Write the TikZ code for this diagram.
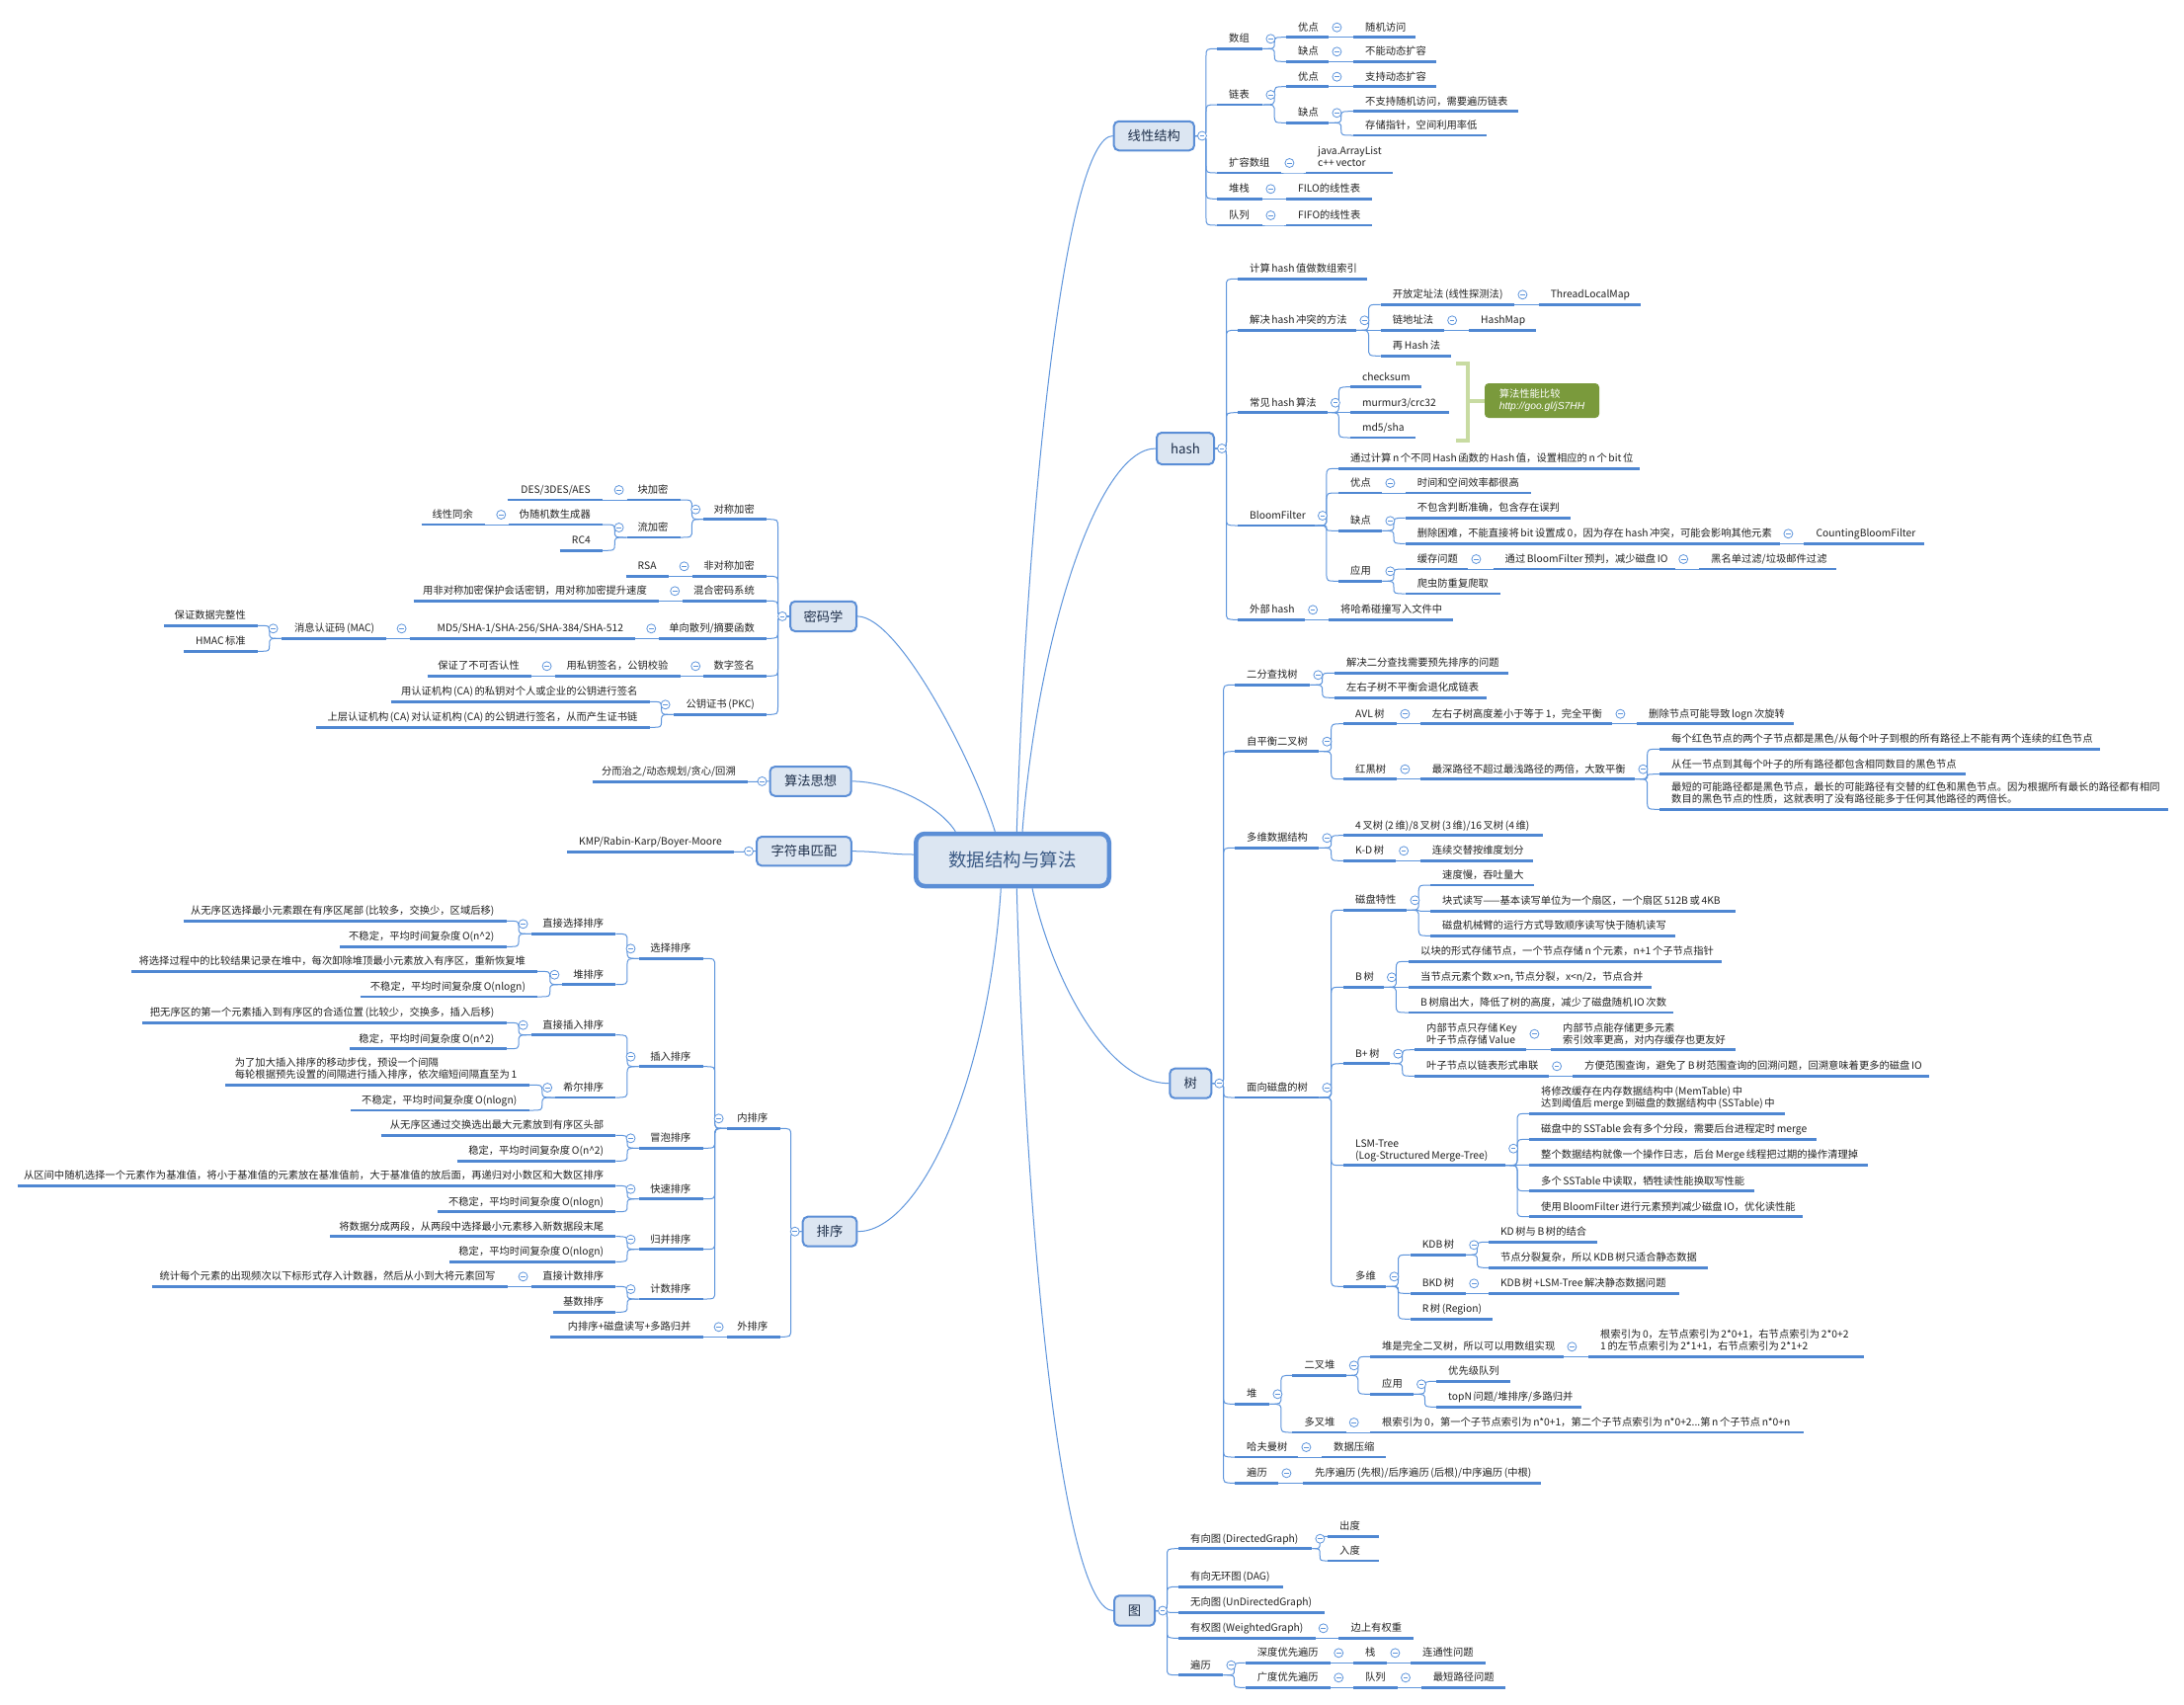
\documentclass[tikz,border=0pt]{standalone}
\usepackage{fontspec}
\setmainfont{Noto Sans CJK SC}[WordSpace=0.7]
\newfontfamily\itfont{Liberation Sans}
\usetikzlibrary{calc}
\pgfdeclarelayer{back}
\pgfdeclarelayer{bg}
\pgfsetlayers{back,bg,main}
\definecolor{ulc}{HTML}{4F87D2}
\definecolor{cnc}{HTML}{5E95DC}
\definecolor{bfill}{HTML}{DCE6F2}
\definecolor{bdraw}{HTML}{5B8ED6}
\definecolor{btext}{HTML}{1E2F4A}
\definecolor{mtext}{HTML}{3B5A85}
\definecolor{lbltext}{HTML}{222222}
\definecolor{brkc}{HTML}{C8DBA2}
\definecolor{gfill}{HTML}{7A9A3C}
\tikzset{
 lbl/.style={inner xsep=12pt, inner ysep=4.85pt, text height=9pt, text depth=1.3pt, font=\fontsize{10.3}{12}\selectfont, text=lbltext},
 ul/.style={draw=ulc, line width=2.8pt},
 conn/.style={draw=cnc, line width=1pt},
 cir/.style={circle, draw=cnc, fill=white, line width=0.8pt, minimum size=9pt, inner sep=0pt,
   path picture={\draw[cnc,line width=0.7pt] ([xshift=-2.3pt]path picture bounding box.center) -- ([xshift=2.3pt]path picture bounding box.center);}},
 tbox/.style={draw=bdraw, line width=2pt, fill=bfill, rounded corners=5pt, inner sep=0pt, font=\fontsize{13.3}{15}\selectfont, text=btext},
 mbox/.style={draw=bdraw, line width=4.5pt, fill=bfill, rounded corners=9pt, inner sep=0pt, font=\fontsize{18.5}{21}\selectfont, text=mtext},
 brk/.style={draw=brkc, line width=4pt},
 gbox/.style={fill=gfill, rounded corners=4pt, inner sep=0pt, text=white, font=\fontsize{10.3}{12}\selectfont},
}
\newcommand\ml[1]{\begin{tabular}[b]{@{}l@{}}#1\end{tabular}}
\newcommand\RN[5]{\node[lbl,anchor=south west] (#1) at (#2,#4) {\makebox[\dimexpr #3pt-#2pt-24pt\relax][l]{#5}};\draw[ul] (#1.south west) -- (#1.south east);}
\newcommand\LN[5]{\node[lbl,anchor=south east] (#1) at (#3,#4) {\makebox[\dimexpr #3pt-#2pt-24pt\relax][r]{#5}};\draw[ul] (#1.south west) -- (#1.south east);}
\newcommand\rc[2]{\begin{pgfonlayer}{bg}\draw[conn] let \p1=(#1), \p2=(#2),
  \n1={(\x1+\x2)/2}, \n2={min(8pt,abs(\y2-(\y1))/2)},
  \n3={(\y2)>(\y1) ? (\y1+\n2) : (\y1-\n2)}, \n4={(\y2)>(\y1) ? (\y2-\n2) : (\y2+\n2)} in
  (\p1) .. controls (\n1,\y1) .. (\n1,\n3) -- (\n1,\n4) .. controls (\n1,\y2) .. (\p2);\end{pgfonlayer}}
\newcommand\RK[3][10pt]{\foreach \kid in {#3}{\rc{#2.south east}{\kid.south west}}\node[cir] at ([xshift=8pt,yshift=#1]#2.south east) {};}
\newcommand\LK[3][10pt]{\foreach \kid in {#3}{\rc{#2.south west}{\kid.south east}}\node[cir] at ([xshift=-8pt,yshift=#1]#2.south west) {};}
\newcommand\BR[2]{\foreach \kid in {#2}{\rc{#1.east}{\kid.south west}}\node[cir] at ([xshift=7pt]#1.east) {};}
\newcommand\BL[2]{\foreach \kid in {#2}{\rc{#1.west}{\kid.south east}}\node[cir] at ([xshift=-7pt]#1.west) {};}
\begin{document}
\begin{tikzpicture}[x=1pt,y=-1pt]
\begin{pgfonlayer}{back}
\fill[white] (0,0) rectangle (2211,1725);
\end{pgfonlayer}
\useasboundingbox (0,0) rectangle (2211,1725);

% ---------- main topics ----------
\node[mbox, minimum width=195.5pt, minimum height=53pt] (M) at (1025,870.5) {数据结构与算法};
\node[tbox, minimum width=81.3pt, minimum height=29.5pt] (L0) at (1168.3,137.5) {线性结构};
\node[tbox, minimum width=58pt, minimum height=32pt] (H0) at (1200,454) {hash};
\node[tbox, minimum width=42pt, minimum height=30pt] (T0) at (1205.3,1096.7) {树};
\node[tbox, minimum width=41pt, minimum height=30.4pt] (G0) at (1148.5,1630.5) {图};
\node[tbox, minimum width=67pt, minimum height=30.3pt] (C0) at (833.5,623.9) {密码学};
\node[tbox, minimum width=82.2pt, minimum height=29.7pt] (A0) at (820.6,790.9) {算法思想};
\node[tbox, minimum width=95.7pt, minimum height=29.3pt] (S0) at (813.9,861.7) {字符串匹配};
\node[tbox, minimum width=54.6pt, minimum height=30pt] (P0) at (840,1246.7) {排序};

\begin{pgfonlayer}{bg}
\draw[conn] ([xshift=4.3pt]M.north) .. controls +(10.7,-342) and +(-46.7,0) .. (L0.west);
\draw[conn] ([xshift=10pt]M.north) .. controls +(15,-192) and +(-60,0) .. (H0.west);
\draw[conn] ([xshift=-17.7pt]M.north) .. controls +(-22.3,-72) and +(41.7,0) .. (C0.east);
\draw[conn] ([xshift=-57.7pt]M.north) .. controls +(-17,-27) and +(38,0) .. (A0.east);
\draw[conn] ([yshift=5.5pt]M.west) .. controls +(-25,0) and +(25,0) .. (S0.east);
\draw[conn] ([xshift=20pt]M.south) .. controls +(20,91) and +(-63.3,0) .. (T0.west);
\draw[conn] ([xshift=4.3pt]M.south) .. controls +(10.7,401) and +(-47,0) .. (G0.west);
\draw[conn] ([xshift=-11.7pt]M.south) .. controls +(-13.3,201) and +(61.7,0) .. (P0.east);
\end{pgfonlayer}

% ---------- linear structures ----------
\RN{a1}{1232}{1278}{49.3}{数组}
\RN{a11}{1302}{1345}{37.7}{优点}
\RN{a111}{1370}{1433}{37.7}{随机访问}
\RN{a12}{1302}{1345}{62.3}{缺点}
\RN{a121}{1370}{1454}{62.3}{不能动态扩容}
\RN{a2}{1232}{1278}{106}{链表}
\RN{a21}{1302}{1345}{87.7}{优点}
\RN{a211}{1370}{1454}{87.7}{支持动态扩容}
\RN{a22}{1302}{1345}{124.3}{缺点}
\RN{a221}{1370}{1537}{112.7}{不支持随机访问，需要遍历链表}
\RN{a222}{1370}{1505}{137}{存储指针，空间利用率低}
\RN{a3}{1232}{1297}{175}{扩容数组}
\RN{a31}{1322}{1410}{175}{\ml{java.ArrayList\\c++ vector}}
\RN{a4}{1232}{1278}{201.3}{堆栈}
\RN{a41}{1302}{1389}{201.3}{FILO的线性表}
\RN{a5}{1232}{1278}{228}{队列}
\RN{a51}{1302}{1389}{228}{FIFO的线性表}
\BR{L0}{a1,a2,a3,a4,a5}
\RK{a1}{a11,a12}\RK{a11}{a111}\RK{a12}{a121}
\RK{a2}{a21,a22}\RK{a21}{a211}\RK{a22}{a221,a222}
\RK{a3}{a31}\RK{a4}{a41}\RK{a5}{a51}

% ---------- hash ----------
\RN{b1}{1253}{1384}{282.3}{计算 hash 值做数组索引}
\RN{b2}{1253}{1373}{334.3}{解决 hash 冲突的方法}
\RN{b21}{1397.7}{1533}{308.3}{开放定址法 (线性探测法)}
\RN{b211}{1557.6}{1660.6}{308.3}{ThreadLocalMap}
\RN{b22}{1397.7}{1461.7}{334.3}{链地址法}
\RN{b221}{1487}{1555}{334.3}{HashMap}
\RN{b23}{1397.7}{1468.7}{360.3}{再 Hash 法}
\RN{b3}{1253}{1343.5}{417.7}{常见 hash 算法}
\RN{b31}{1366.8}{1439}{391.7}{checksum}
\RN{b32}{1366.8}{1466.5}{417.7}{murmur3/crc32}
\RN{b33}{1366.8}{1433}{443}{md5/sha}
\RN{b4}{1253}{1330.5}{532}{BloomFilter}
\RN{b41}{1355}{1659.5}{474.3}{通过计算 n 个不同 Hash 函数的 Hash 值，设置相应的 n 个 bit 位}
\RN{b42}{1355}{1399}{499}{优点}
\RN{b421}{1422.6}{1549.5}{499}{时间和空间效率都很高}
\RN{b43}{1355}{1399}{537.3}{缺点}
\RN{b431}{1422.6}{1590}{524.3}{不包含判断准确，包含存在误判}
\RN{b432}{1422.6}{1802}{550.3}{删除困难，不能直接将 bit 设置成 0，因为存在 hash 冲突，可能会影响其他元素}
\RN{b4321}{1826.4}{1947.8}{550.3}{CountingBloomFilter}
\RN{b44}{1355}{1399}{588.3}{应用}
\RN{b441}{1422.6}{1486}{576}{缓存问题}
\RN{b4411}{1511.5}{1695.8}{576}{通过 BloomFilter 预判，减少磁盘 IO}
\RN{b44111}{1720}{1859}{576}{黑名单过滤/垃圾邮件过滤}
\RN{b442}{1422.6}{1518.6}{601}{爬虫防重复爬取}
\RN{b5}{1253}{1320.7}{627.3}{外部 hash}
\RN{b51}{1345}{1471}{627.3}{将哈希碰撞写入文件中}
\BR{H0}{b1,b2,b3,b4,b5}
\RK{b2}{b21,b22,b23}\RK{b21}{b211}\RK{b22}{b221}
\RK{b3}{b31,b32,b33}
\RK{b4}{b41,b42,b43,b44}\RK{b42}{b421}\RK{b43}{b431,b432}\RK{b432}{b4321}
\RK{b44}{b441,b442}\RK{b441}{b4411}\RK{b4411}{b44111}
\RK{b5}{b51}
\node[gbox, minimum width=116pt, minimum height=35pt] (GB) at (1561,405.5) {\begin{tabular}{@{}l@{}}算法性能比较\\{\itfont\itshape http://goo.gl/jS7HH}\end{tabular}};
\draw[brk] (1474,368) -- (1486,368) -- (1486,446) -- (1474,446);
\draw[brk] (1486,405.5) -- (GB.west);

% ---------- tree ----------
\RN{c1}{1250}{1326}{693.3}{二分查找树}
\RN{c11}{1351}{1526.4}{681.3}{解决二分查找需要预先排序的问题}
\RN{c12}{1351}{1504.7}{706.3}{左右子树不平衡会退化成链表}
\RN{c2}{1250}{1335}{760.7}{自平衡二叉树}
\RN{c21}{1360}{1414}{732.7}{AVL 树}
\RN{c211}{1437.7}{1632}{732.7}{左右子树高度差小于等于 1，完全平衡}
\RN{c2111}{1657}{1815.5}{732.7}{删除节点可能导致 logn 次旋转}
\RN{c22}{1360}{1414}{788.7}{红黑树}
\RN{c221}{1437.7}{1655}{788.7}{最深路径不超过最浅路径的两倍，大致平衡}
\RN{c2211}{1680}{2126}{758.3}{每个红色节点的两个子节点都是黑色/从每个叶子到根的所有路径上不能有两个连续的红色节点}
\RN{c2212}{1680}{1989.5}{783.7}{从任一节点到其每个叶子的所有路径都包含相同数目的黑色节点}
\RN{c2213}{1680}{2194.6}{819.3}{\ml{最短的可能路径都是黑色节点，最长的可能路径有交替的红色和黑色节点。因为根据所有最长的路径都有相同\\数目的黑色节点的性质，这就表明了没有路径能多于任何其他路径的两倍长。}}
\RN{c3}{1250}{1335}{858.3}{多维数据结构}
\RN{c31}{1360}{1561.6}{845.7}{4 叉树 (2 维)/8 叉树 (3 维)/16 叉树 (4 维)}
\RN{c32}{1360}{1412.7}{871.3}{K-D 树}
\RN{c321}{1437.7}{1551.5}{871.3}{连续交替按维度划分}
\RN{c4}{1250}{1335}{1111}{面向磁盘的树}
\RN{c41}{1360}{1424}{921.3}{磁盘特性}
\RN{c411}{1448}{1553}{896}{速度慢，吞吐量大}
\RN{c412}{1448}{1756.6}{922.3}{块式读写——基本读写单位为一个扇区，一个扇区 512B 或 4KB}
\RN{c413}{1448}{1695.7}{947.3}{磁盘机械臂的运行方式导致顺序读写快于随机读写}
\RN{c42}{1360}{1400.5}{999.3}{B 树}
\RN{c421}{1426}{1743}{973.3}{以块的形式存储节点，一个节点存储 n 个元素，n+1 个子节点指针}
\RN{c422}{1426}{1672}{999.3}{当节点元素个数 x>n, 节点分裂，x<n/2，节点合并}
\RN{c423}{1426}{1694}{1025}{B 树扇出大，降低了树的高度，减少了磁盘随机 IO 次数}
\RN{c43}{1360}{1407}{1076.7}{B+ 树}
\RN{c431}{1432}{1545}{1062.7}{\ml{内部节点只存储 Key\\叶子节点存储 Value}}
\RN{c4311}{1570}{1756.6}{1062.7}{\ml{内部节点能存储更多元素\\索引效率更高，对内存缓存也更友好}}
\RN{c432}{1432}{1567.7}{1089.3}{叶子节点以链表形式串联}
\RN{c4321}{1592}{1953}{1089.3}{方便范围查询，避免了 B 树范围查询的回溯问题，回溯意味着更多的磁盘 IO}
\RN{c44}{1360}{1523.7}{1179.7}{\ml{LSM-Tree\\(Log-Structured Merge-Tree)}}
\RN{c441}{1548}{1806.7}{1127.3}{\ml{将修改缓存在内存数据结构中 (MemTable) 中\\达到阈值后 merge 到磁盘的数据结构中 (SSTable) 中}}
\RN{c442}{1548}{1838.5}{1153.3}{磁盘中的 SSTable 会有多个分段，需要后台进程定时 merge}
\RN{c443}{1548}{1890.6}{1179.3}{整个数据结构就像一个操作日志，后台 Merge 线程把过期的操作清理掉}
\RN{c444}{1548}{1775.5}{1205.7}{多个 SSTable 中读取，牺牲读性能换取写性能}
\RN{c445}{1548}{1825}{1231.7}{使用 BloomFilter 进行元素预判减少磁盘 IO，优化读性能}
\RN{c45}{1360}{1403}{1302.3}{多维}
\RN{c451}{1427.6}{1483.8}{1270.3}{KDB 树}
\RN{c4511}{1506.8}{1616.5}{1257.3}{KD 树与 B 树的结合}
\RN{c4512}{1506.8}{1728.8}{1283.3}{节点分裂复杂，所以 KDB 树只适合静态数据}
\RN{c452}{1427.6}{1483.8}{1309.3}{BKD 树}
\RN{c4521}{1506.8}{1700}{1309.3}{KDB 树 +LSM-Tree 解决静态数据问题}
\RN{c453}{1427.6}{1511}{1335.3}{R 树 (Region)}
\RN{c5}{1250}{1285}{1421.3}{堆}
\RN{c51}{1308.4}{1362.3}{1392.3}{二叉堆}
\RN{c511}{1387}{1583}{1373.3}{堆是完全二叉树，所以可以用数组实现}
\RN{c5111}{1608}{1887}{1373.3}{\ml{根索引为 0，左节点索引为 2*0+1，右节点索引为 2*0+2\\1 的左节点索引为 2*1+1，右节点索引为 2*1+2}}
\RN{c512}{1387}{1430.6}{1411.3}{应用}
\RN{c5121}{1454}{1529}{1398.3}{优先级队列}
\RN{c5122}{1454}{1601}{1424.3}{topN 问题/堆排序/多路归并}
\RN{c52}{1308.4}{1362.3}{1450}{多叉堆}
\RN{c521}{1387}{1826}{1450}{根索引为 0，第一个子节点索引为 n*0+1，第二个子节点索引为 n*0+2...第 n 个子节点 n*0+n}
\RN{c6}{1250}{1314}{1475}{哈夫曼树}
\RN{c61}{1338}{1402.5}{1475}{数据压缩}
\RN{c7}{1250}{1294}{1501.3}{遍历}
\RN{c71}{1319}{1560}{1501.3}{先序遍历 (先根)/后序遍历 (后根)/中序遍历 (中根)}
\BR{T0}{c1,c2,c3,c4,c5,c6,c7}
\RK{c1}{c11,c12}
\RK{c2}{c21,c22}\RK{c21}{c211}\RK{c211}{c2111}\RK{c22}{c221}\RK{c221}{c2211,c2212,c2213}
\RK{c3}{c31,c32}\RK{c32}{c321}
\RK{c4}{c41,c42,c43,c44,c45}\RK{c41}{c411,c412,c413}\RK{c42}{c421,c422,c423}
\RK{c43}{c431,c432}\RK[16pt]{c431}{c4311}\RK{c432}{c4321}
\RK[17pt]{c44}{c441,c442,c443,c444,c445}
\RK{c45}{c451,c452,c453}\RK{c451}{c4511,c4512}\RK{c452}{c4521}
\RK{c5}{c51,c52}\RK{c51}{c511,c512}\RK{c511}{c5111}\RK{c512}{c5121,c5122}\RK{c52}{c521}
\RK{c6}{c61}\RK{c7}{c71}

% ---------- graph ----------
\RN{d1}{1193}{1328}{1567.7}{有向图 (DirectedGraph)}
\RN{d11}{1344}{1395.6}{1555.3}{出度}
\RN{d12}{1344}{1395.6}{1580}{入度}
\RN{d2}{1193}{1298.6}{1606.3}{有向无环图 (DAG)}
\RN{d3}{1193}{1340.5}{1632.3}{无向图 (UnDirectedGraph)}
\RN{d4}{1193}{1331.3}{1658.3}{有权图 (WeightedGraph)}
\RN{d41}{1355.4}{1431}{1658.3}{边上有权重}
\RN{d5}{1193}{1238}{1695.7}{遍历}
\RN{d51}{1260.7}{1346.8}{1683.3}{深度优先遍历}
\RN{d511}{1369.8}{1404}{1683.3}{栈}
\RN{d5111}{1428}{1503.5}{1683.3}{连通性问题}
\RN{d52}{1260.7}{1346.8}{1708.3}{广度优先遍历}
\RN{d521}{1369.8}{1414.6}{1708.3}{队列}
\RN{d5211}{1438.7}{1523.6}{1708.3}{最短路径问题}
\BR{G0}{d1,d2,d3,d4,d5}
\RK{d1}{d11,d12}\RK{d4}{d41}\RK{d5}{d51,d52}\RK{d51}{d511}\RK{d511}{d5111}\RK{d52}{d521}\RK{d521}{d5211}

% ---------- cryptography ----------
\LN{e1}{712.6}{776}{525.7}{对称加密}
\LN{e11}{635}{688.7}{506}{块加密}
\LN{e111}{514}{610}{506}{DES/3DES/AES}
\LN{e12}{635}{688.7}{544}{流加密}
\LN{e121}{515.7}{610}{531}{伪随机数生成器}
\LN{e1211}{427}{491}{531}{线性同余}
\LN{e122}{567}{610}{557.3}{RC4}
\LN{e2}{701}{776}{583.3}{非对称加密}
\LN{e21}{634}{676.7}{583.3}{RSA}
\LN{e3}{691.6}{776}{608.3}{混合密码系统}
\LN{e31}{419}{667}{608.3}{用非对称加密保护会话密钥，用对称加密提升速度}
\LN{e4}{667.7}{776}{646.3}{单向散列/摘要函数}
\LN{e41}{415}{643.3}{646.3}{MD5/SHA-1/SHA-256/SHA-384/SHA-512}
\LN{e411}{285}{391.4}{646.3}{消息认证码 (MAC)}
\LN{e4111}{166.7}{261}{633.3}{保证数据完整性}
\LN{e4112}{186.8}{261}{659.3}{HMAC 标准}
\LN{e5}{712.6}{776}{684.3}{数字签名}
\LN{e51}{562}{688.7}{684.3}{用私钥签名，公钥校验}
\LN{e511}{433}{538}{684.3}{保证了不可否认性}
\LN{e6}{682}{776}{723.3}{公钥证书 (PKC)}
\LN{e61}{396}{657.6}{710.3}{用认证机构 (CA) 的私钥对个人或企业的公钥进行签名}
\LN{e62}{320.6}{657.6}{736.3}{上层认证机构 (CA) 对认证机构 (CA) 的公钥进行签名，从而产生证书链}
\BL{C0}{e1,e2,e3,e4,e5,e6}
\LK{e1}{e11,e12}\LK{e11}{e111}\LK{e12}{e121,e122}\LK{e121}{e1211}
\LK{e2}{e21}\LK{e3}{e31}\LK{e4}{e41}\LK{e41}{e411}\LK{e411}{e4111,e4112}
\LK{e5}{e51}\LK{e51}{e511}\LK{e6}{e61,e62}

% ---------- algorithm ideas / string matching ----------
\LN{f1}{600}{757}{791.3}{分而治之/动态规划/贪心/回溯}
\LN{g1}{574.6}{743}{862.3}{KMP/Rabin-Karp/Boyer-Moore}
\BL{A0}{f1}
\BL{S0}{g1}

% ---------- sorting ----------
\LN{h1}{736}{789.5}{1142.3}{内排序}
\LN{h11}{646.9}{711.7}{970.3}{选择排序}
\LN{h111}{538}{623.4}{945.3}{直接选择排序}
\LN{h1111}{186}{512.6}{932.3}{从无序区选择最小元素跟在有序区尾部 (比较多，交换少，区域后移)}
\LN{h1112}{344.8}{512.6}{958.3}{不稳定，平均时间复杂度 O(n\textasciicircum 2)}
\LN{h112}{569.8}{623.4}{996.7}{堆排序}
\LN{h1121}{133.6}{544.2}{983.3}{将选择过程中的比较结果记录在堆中，每次卸除堆顶最小元素放入有序区，重新恢复堆}
\LN{h1122}{365}{544.2}{1009}{不稳定，平均时间复杂度 O(nlogn)}
\LN{h12}{646.9}{711.7}{1079.7}{插入排序}
\LN{h121}{538}{623.4}{1047.7}{直接插入排序}
\LN{h1211}{144.3}{512.6}{1035.3}{把无序区的第一个元素插入到有序区的合适位置 (比较少，交换多，插入后移)}
\LN{h1212}{354.5}{512.6}{1061.7}{稳定，平均时间复杂度 O(n\textasciicircum 2)}
\LN{h122}{562.6}{623.4}{1111}{希尔排序}
\LN{h1221}{228.5}{535.5}{1098.3}{\ml{为了加大插入排序的移动步伐，预设一个间隔\\每轮根据预先设置的间隔进行插入排序，依次缩短间隔直至为 1}}
\LN{h1222}{355.5}{535.5}{1124}{不稳定，平均时间复杂度 O(nlogn)}
\LN{h13}{646.9}{711.7}{1162.3}{冒泡排序}
\LN{h131}{386}{623.4}{1149.3}{从无序区通过交换选出最大元素放到有序区头部}
\LN{h132}{463}{623.4}{1175.3}{稳定，平均时间复杂度 O(n\textasciicircum 2)}
\LN{h14}{646.9}{711.7}{1213.7}{快速排序}
\LN{h141}{17.9}{623.4}{1200.3}{从区间中随机选择一个元素作为基准值，将小于基准值的元素放在基准值前，大于基准值的放后面，再递归对小数区和大数区排序}
\LN{h142}{443.7}{623.4}{1226.7}{不稳定，平均时间复杂度 O(nlogn)}
\LN{h15}{646.9}{711.7}{1264.7}{归并排序}
\LN{h151}{334.6}{623.4}{1251.7}{将数据分成两段，从两段中选择最小元素移入新数据段末尾}
\LN{h152}{455}{623.4}{1277.3}{稳定，平均时间复杂度 O(nlogn)}
\LN{h16}{646.9}{711.7}{1315}{计数排序}
\LN{h161}{538}{623.4}{1302.3}{直接计数排序}
\LN{h1611}{154}{513.6}{1302.3}{统计每个元素的出现频次以下标形式存入计数器，然后从小到大将元素回写}
\LN{h162}{560}{623.4}{1328.3}{基数排序}
\LN{h2}{736}{789.5}{1353.3}{外排序}
\LN{h21}{557.4}{711.7}{1353.3}{内排序+磁盘读写+多路归并}
\BL{P0}{h1,h2}
\LK{h1}{h11,h12,h13,h14,h15,h16}
\LK{h11}{h111,h112}\LK{h111}{h1111,h1112}\LK{h112}{h1121,h1122}
\LK{h12}{h121,h122}\LK{h121}{h1211,h1212}\LK{h122}{h1221,h1222}
\LK{h13}{h131,h132}\LK{h14}{h141,h142}\LK{h15}{h151,h152}
\LK{h16}{h161,h162}\LK{h161}{h1611}
\LK{h2}{h21}
\end{tikzpicture}
\end{document}
